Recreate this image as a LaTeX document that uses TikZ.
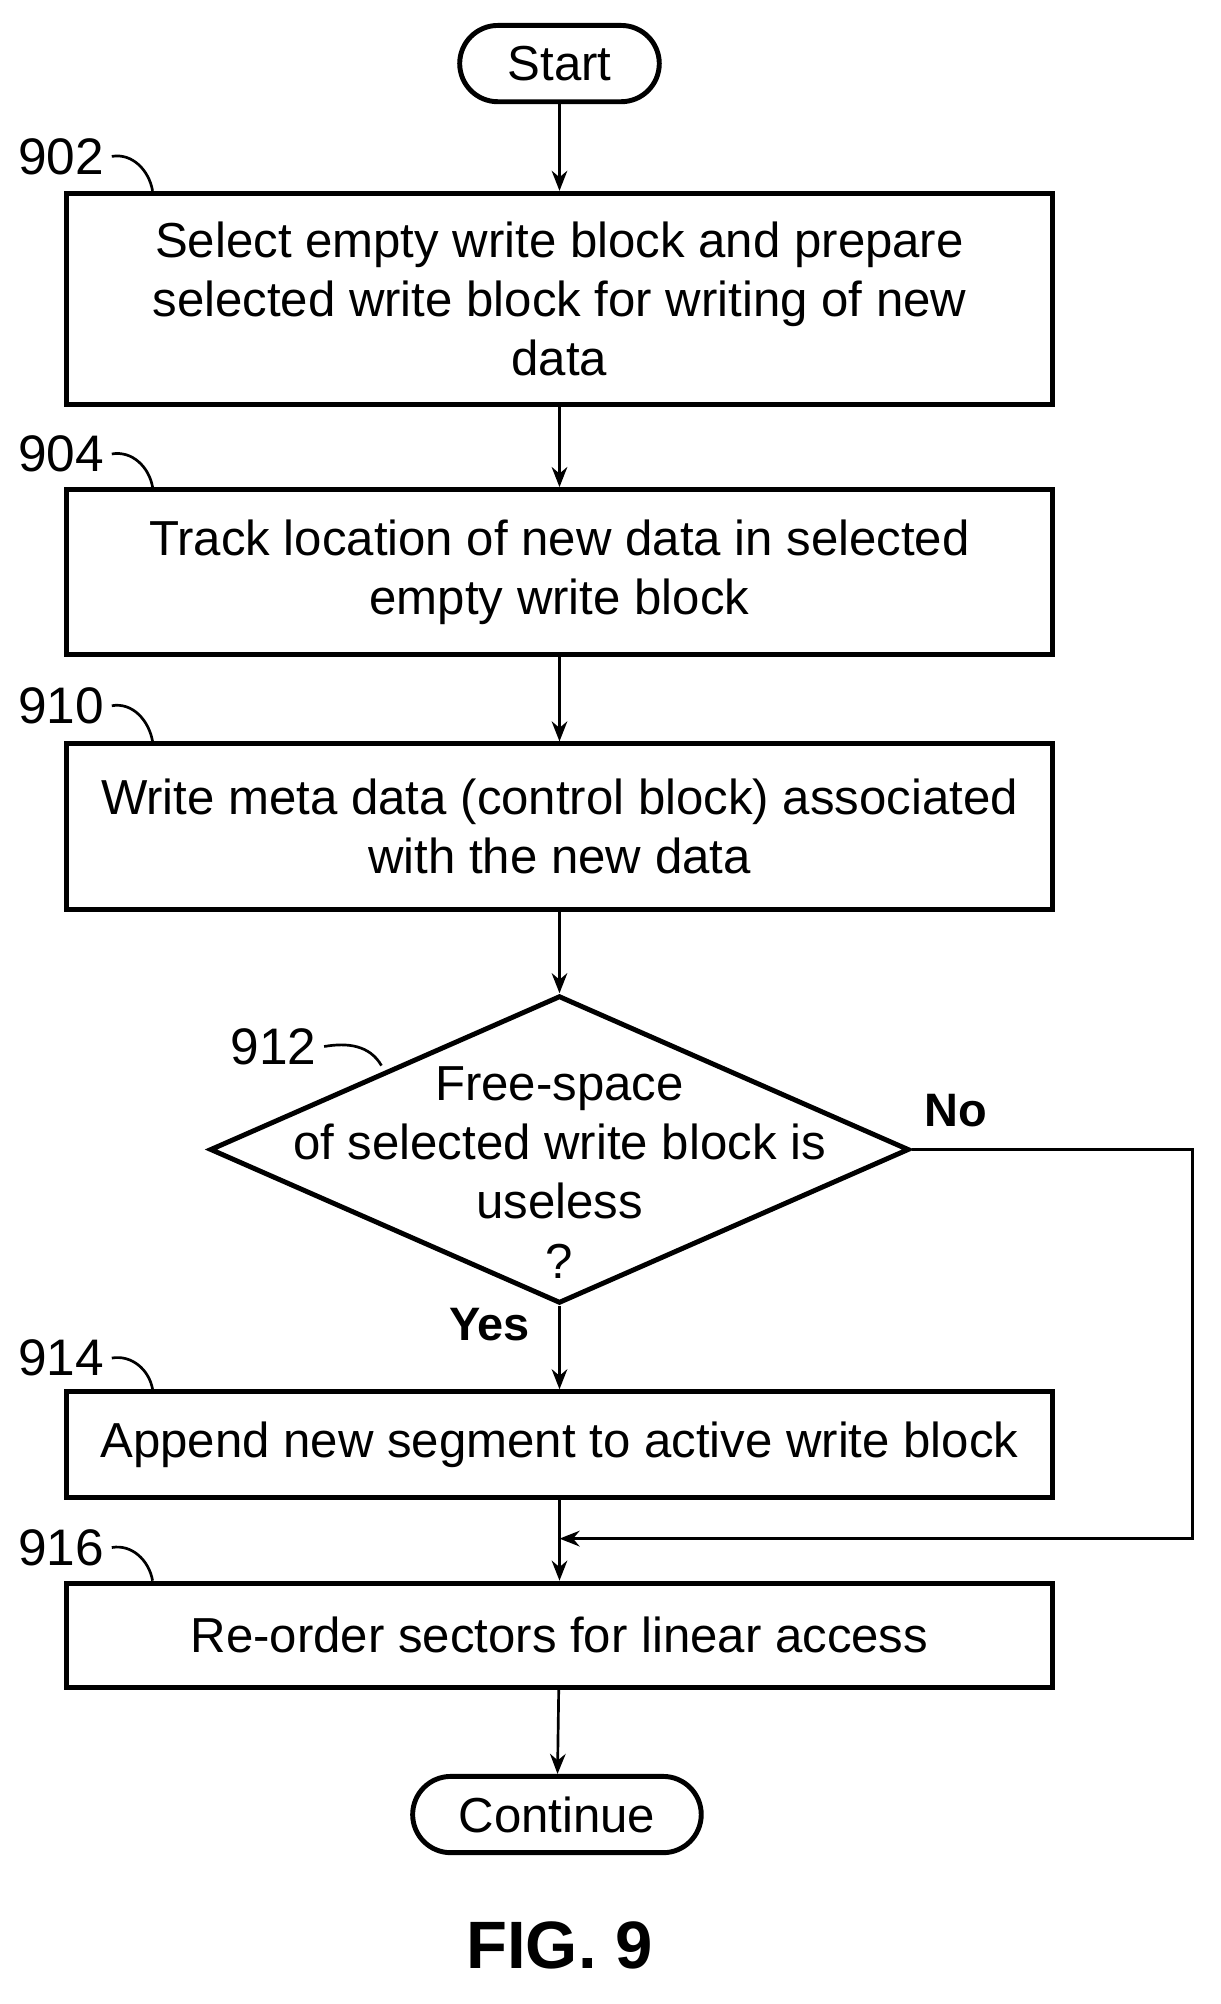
\documentclass[tikz,border=0pt]{standalone}
\usepackage{fontspec}
\setmainfont{Liberation Sans}
\usetikzlibrary{shapes.geometric,arrows.meta}
\tikzset{
  box/.style={draw=black,line width=2.2pt,minimum width=15.52cm,align=center,inner sep=0pt},
  term/.style={draw=black,line width=2.2pt,rounded corners=0.6cm,inner sep=0pt,minimum height=1.2cm},
  decide/.style={draw=black,line width=2.2pt,diamond,aspect=2.27,minimum width=11cm,minimum height=4.84cm,align=center,inner sep=0pt},
  flow/.style={-{Stealth[length=9pt,width=7pt]},line width=1.2pt},
  tag/.style={font=\fontsize{23}{26}\selectfont},
  leader/.style={line width=1.2pt}
}
\begin{document}
\begin{tikzpicture}[x=0.02cm,y=-0.02cm,font=\fontsize{22}{26.5}\selectfont]
\useasboundingbox (0,0) rectangle (960,1576);

% blocks
\node[term,minimum width=3.14cm] (start) at (440,50) {Start};
\node[box,minimum height=3.32cm] (b902) at (440,235) {Select empty write block and prepare\\selected write block for writing of new\\data};
\node[box,minimum height=2.6cm] (b904) at (440,450) {Track location of new data in selected\\empty write block};
\node[box,minimum height=2.6cm] (b910) at (440,650) {Write meta data (control block) associated\\with the new data};
\node[decide] (d912) at (440,904) {};
\node[align=center] (q912) at (440,922) {Free-space\\of selected write block is\\useless\\?};
\node[box,minimum height=1.66cm] (b914) at (440,1136) {Append new segment to active write block};
\node[box,minimum height=1.64cm] (b916) at (440,1286) {Re-order sectors for linear access};
\node[term,minimum width=4.54cm] (cont) at (438,1427) {Continue};
\node[font=\fontsize{30}{34}\selectfont\bfseries] (fig) at (440,1530) {FIG. 9};

% connectors
\draw[flow] (start) -- (b902);
\draw[flow] (b902) -- (b904);
\draw[flow] (b904) -- (b910);
\draw[flow] (b910) -- (d912);
\draw[flow] (d912) -- (b914);
\draw[flow] (b914) -- (b916);
\coordinate (merge) at (440,1210);
\draw[flow] (d912.east) -| (938,1210) -- (merge);
\draw[flow] (b916) -- (cont);
\node[font=\fontsize{21}{24}\selectfont\bfseries] (no) at (752,873) {No};
\node[font=\fontsize{21}{24}\selectfont\bfseries] (yes) at (385,1042) {Yes};

% reference labels
\node[tag] (t902) at (48,123) {902};
\draw[leader] (t902.east) to[out=10,in=100] (b902.north west -| 120,0);
\node[tag] (t904) at (48,357) {904};
\draw[leader] (t904.east) to[out=10,in=100] (b904.north west -| 120,0);
\node[tag] (t910) at (48,555) {910};
\draw[leader] (t910.east) to[out=10,in=100] (b910.north west -| 120,0);
\node[tag] (t912) at (215,823) {912};
\draw[leader] (t912.east) to[out=10,in=120] (300,838);
\node[tag] (t914) at (48,1068) {914};
\draw[leader] (t914.east) to[out=10,in=100] (b914.north west -| 120,0);
\node[tag] (t916) at (48,1217) {916};
\draw[leader] (t916.east) to[out=10,in=100] (b916.north west -| 120,0);
\end{tikzpicture}
\end{document}
